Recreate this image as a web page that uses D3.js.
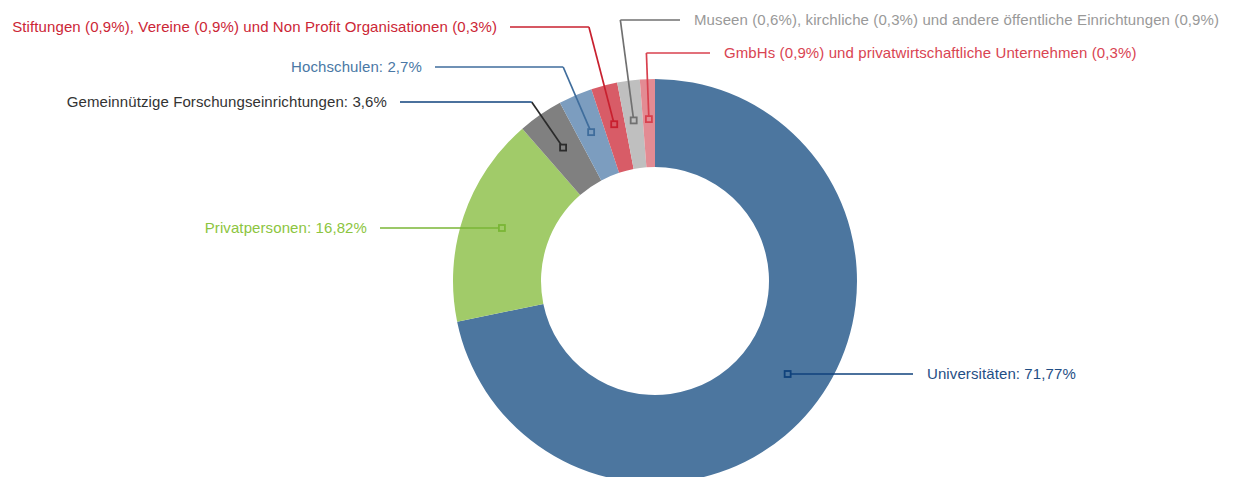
<!DOCTYPE html>
<html>
<head>
<meta charset="utf-8">
<script src="https://cdn.jsdelivr.net/npm/d3@7"></script>
<style>
  body { margin: 0; background: #fff; }
  svg { display: block; }
</style>
</head>
<body>
<div id="chart"></div>
<script>
// Data
var categories = ["Universitäten", "Privatpersonen", "Gemeinnützige Forschungseinrichtungen", "Hochschulen",
  "Stiftungen, Vereine, NPO", "Museen, kirchliche, andere öffentliche", "GmbHs, privatwirtschaftliche"];
var values = [71.77, 16.82, 3.6, 2.7, 2.1, 1.8, 1.2];
var labels = [
  "Universitäten: 71,77%",
  "Privatpersonen: 16,82%",
  "Gemeinnützige Forschungseinrichtungen: 3,6%",
  "Hochschulen: 2,7%",
  "Stiftungen (0,9%), Vereine (0,9%) und Non Profit Organisationen (0,3%)",
  "Museen (0,6%), kirchliche (0,3%) und andere öffentliche Einrichtungen (0,9%)",
  "GmbHs (0,9%) und privatwirtschaftliche Unternehmen (0,3%)"
];

// Colours
var sliceColors = ["#4c769f", "#a1cb69", "#808080", "#7c9dbf", "#d85c67", "#bfbfbf", "#e38b93"];
var lineColors  = ["#0f427c", "#7ab636", "#2b2b2b", "#3f6d9c", "#c8202f", "#707070", "#d8404e"];
var armColors   = ["#0f427c", "#7ab636", "#0f427c", "#3f6d9c", "#c8202f", "#707070", "#d8404e"];
var textColors  = ["#1f4e85", "#8cc540", "#333333", "#4a78a5", "#cc2636", "#999999", "#d94452"];

// Label layout (row of each label and where its leader line ends)
var labelY   = [374, 228, 102, 67, 27, 20, 53];
var lineEndX = [913, 380, 400, 435, 510, 680, 710];

var width = 1237, height = 477;
var cx = 655, cy = 281, outerR = 202, innerR = 114, markR = 162;

var svg = d3.select("#chart").append("svg")
  .attr("width", width)
  .attr("height", height);

var pie = d3.pie().sort(null).value(function(d) { return d; });
var arcs = pie(values);
var arc = d3.arc().innerRadius(innerR).outerRadius(outerR);

var g = svg.append("g").attr("transform", "translate(" + cx + "," + cy + ")");

g.selectAll("path.slice")
  .data(arcs)
  .enter().append("path")
    .attr("class", "slice")
    .attr("d", arc)
    .attr("fill", function(d, i) { return sliceColors[i]; });

// Leader lines, markers and labels
arcs.forEach(function(d, i) {
  var a = (d.startAngle + d.endAngle) / 2;
  var mx = Math.sin(a) * markR, my = -Math.cos(a) * markR;
  var ly = labelY[i] - cy;
  var endX = lineEndX[i] - cx;
  var elbowX;
  if (Math.abs(ly - my) < 15) {
    // straight horizontal line: put the marker on the label row
    my = ly;
    mx = (Math.sin(a) < 0 ? -1 : 1) * Math.sqrt(markR * markR - ly * ly);
    elbowX = mx;
  } else {
    elbowX = mx + (ly - my) * Math.sin(a) / (-Math.cos(a));
    g.append("line")
      .attr("x1", mx).attr("y1", my)
      .attr("x2", elbowX).attr("y2", ly)
      .attr("stroke", lineColors[i])
      .attr("stroke-width", 1.7);
  }
  g.append("line")
    .attr("x1", elbowX).attr("y1", ly)
    .attr("x2", endX).attr("y2", ly)
    .attr("stroke", armColors[i])
    .attr("stroke-width", 1.7);

  g.append("rect")
    .attr("x", mx - 3).attr("y", my - 3)
    .attr("width", 6).attr("height", 6)
    .attr("fill", sliceColors[i])
    .attr("stroke", lineColors[i])
    .attr("stroke-width", 1.8);

  var right = endX > mx;
  g.append("text")
    .attr("x", right ? endX + 14 : endX - 13)
    .attr("y", ly)
    .attr("dy", "0.35em")
    .attr("text-anchor", right ? "start" : "end")
    .style("font-family", "'Liberation Sans', Arial, sans-serif")
    .style("font-size", "15px")
    .style("letter-spacing", "0.1px")
    .attr("fill", textColors[i])
    .text(labels[i]);
});
</script>
</body>
</html>
